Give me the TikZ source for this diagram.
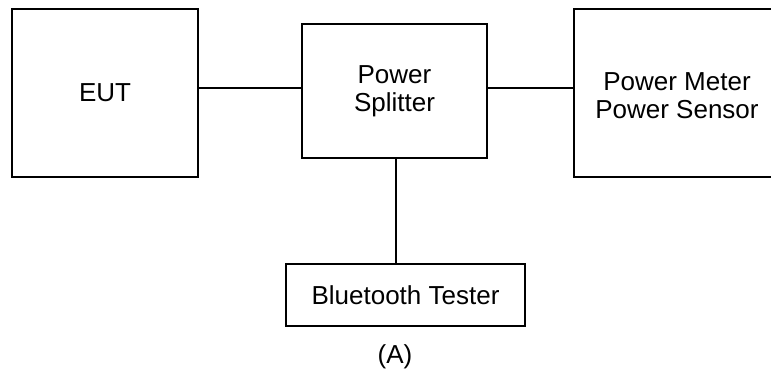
\documentclass[tikz,border=0pt]{standalone}
\usepackage{fontspec}
\setmainfont{Liberation Sans}
\begin{document}
\begin{tikzpicture}[x=1pt,y=-1pt,
  box/.style={draw=black,line width=2pt,rectangle,inner sep=0pt,align=center,
    font=\fontsize{26}{28}\selectfont},
  link/.style={draw=black,line width=2pt},
  caption/.style={inner sep=0pt,font=\fontsize{26}{28}\selectfont}]
  \useasboundingbox (0,0) rectangle (771,369);
  \clip (0,0) rectangle (771,369);
  % instruments
  \node[box,minimum width=186pt,minimum height=168pt] (eut) at (105,93) {EUT};
  \node[box,minimum width=185pt,minimum height=134pt] (split) at (394.5,91) {Power\\Splitter};
  \node[box,minimum width=206pt,minimum height=168pt] (meter) at (677,93) {};
  \node[align=center,inner sep=0pt,font=\fontsize{26}{28}\selectfont] (metertxt) at (677,96) {Power Meter\\Power Sensor};
  \node[box,minimum width=239pt,minimum height=62pt] (bt) at (405.5,295) {Bluetooth Tester};
  \node[caption] (cap) at (395,357) {(A)};
  % cabling
  \coordinate (rowy) at (0,88);
  \coordinate (colx) at (396,0);
  \draw[link] (eut.east |- rowy) -- (split.west |- rowy);
  \draw[link] (split.east |- rowy) -- (meter.west |- rowy);
  \draw[link] (split.south -| colx) -- (bt.north -| colx);
\end{tikzpicture}
\end{document}
